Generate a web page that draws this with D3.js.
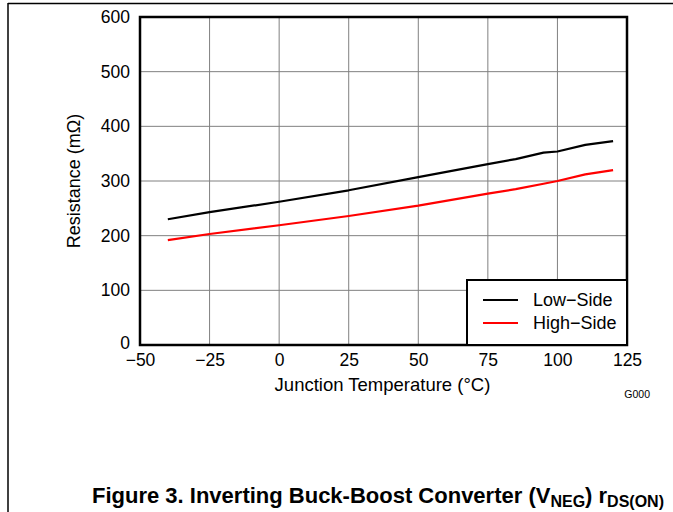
<!DOCTYPE html>
<html>
<head>
<meta charset="utf-8">
<script src="https://cdn.jsdelivr.net/npm/d3@7"></script>
<style>
  html, body { margin: 0; padding: 0; background: #fff; }
  svg { display: block; font-family: "Liberation Sans", Arial, sans-serif; }
</style>
</head>
<body>
<svg id="chart" width="673" height="512"></svg>
<script>
// Junction temperature (°C) sample points
const temps = [-40, -25, 0, 25, 50, 75, 85, 95, 100, 110, 120];
// On-resistance (mΩ) of each switch
const lowSide  = [230, 243, 262, 283, 307, 331, 340, 352, 354, 366, 373];
const highSide = [192, 203, 219, 236, 255, 277, 285, 295, 300, 312, 320];

const xTicks = [-50, -25, 0, 25, 50, 75, 100, 125];
const yTicks = [0, 100, 200, 300, 400, 500, 600];

const seriesNames = ["Low\u2212Side", "High\u2212Side"];
const seriesColors = ["#000000", "#ff0000"];

const FONT = "Liberation Sans, Arial, sans-serif";
const svg = d3.select("#chart");
const plot = { left: 140, top: 17, right: 627, bottom: 345 };

const x = d3.scaleLinear().domain([-50, 125]).range([plot.left, plot.right]);
const y = d3.scaleLinear().domain([0, 600]).range([plot.bottom, plot.top]);

// page frame lines
svg.append("line").attr("x1", 8).attr("x2", 673).attr("y1", 3.5).attr("y2", 3.5)
  .attr("stroke", "#000").attr("stroke-width", 1.5);
svg.append("line").attr("x1", 8).attr("x2", 8).attr("y1", 3).attr("y2", 512)
  .attr("stroke", "#000").attr("stroke-width", 1.5);

// grid
const grid = svg.append("g");
grid.selectAll("line.vx").data(xTicks.slice(1, -1)).join("line")
  .attr("x1", d => x(d)).attr("x2", d => x(d))
  .attr("y1", plot.top).attr("y2", plot.bottom)
  .attr("stroke", "#808080").attr("stroke-width", 1);
grid.selectAll("line.hy").data(yTicks.slice(1, -1)).join("line")
  .attr("x1", plot.left).attr("x2", plot.right)
  .attr("y1", d => y(d)).attr("y2", d => y(d))
  .attr("stroke", "#808080").attr("stroke-width", 1);

// axes (labels only; frame drawn separately)
const xAxis = svg.append("g").attr("transform", `translate(0,${plot.bottom})`)
  .call(d3.axisBottom(x).tickValues(xTicks).tickSize(0).tickPadding(9)
    .tickFormat(d => d < 0 ? "\u2212" + Math.abs(d) : d));
xAxis.select(".domain").remove();
xAxis.attr("font-size", 17.5).attr("font-family", FONT);
xAxis.selectAll("text").attr("fill", "#000");

const yAxis = svg.append("g").attr("transform", `translate(${plot.left},0)`)
  .call(d3.axisLeft(y).tickValues(yTicks).tickSize(0).tickPadding(10));
yAxis.select(".domain").remove();
yAxis.attr("font-size", 17.5).attr("font-family", FONT);
yAxis.selectAll("text").attr("fill", "#000");
// lift the bottom "0" slightly clear of the x tick labels
yAxis.selectAll(".tick").filter(d => d === 0).select("text").attr("dy", "0.2em");

// series lines
const line = d3.line().x(d => x(d[0])).y(d => y(d[1]));
[lowSide, highSide].forEach((vals, i) => {
  svg.append("path")
    .datum(temps.map((t, j) => [t, vals[j]]))
    .attr("d", line)
    .attr("fill", "none")
    .attr("stroke", seriesColors[i])
    .attr("stroke-width", 2.2)
    .attr("stroke-linejoin", "round");
});

// plot frame
svg.append("rect")
  .attr("x", plot.left).attr("y", plot.top)
  .attr("width", plot.right - plot.left).attr("height", plot.bottom - plot.top)
  .attr("fill", "none").attr("stroke", "#000").attr("stroke-width", 2.5);

// legend
const lg = svg.append("g");
lg.append("rect").attr("x", 467).attr("y", 280)
  .attr("width", plot.right - 467).attr("height", plot.bottom - 280)
  .attr("fill", "#fff").attr("stroke", "#000").attr("stroke-width", 2);
seriesNames.forEach((name, i) => {
  const ly = 300 + i * 23;
  lg.append("line").attr("x1", 483).attr("x2", 518).attr("y1", ly).attr("y2", ly)
    .attr("stroke", seriesColors[i]).attr("stroke-width", 2.2);
  lg.append("text").attr("x", 533).attr("y", ly + 6)
    .attr("font-size", 18).attr("fill", "#000").text(name);
});

// axis titles
svg.append("text")
  .attr("x", (plot.left + plot.right) / 2 - 1).attr("y", 391)
  .attr("text-anchor", "middle").attr("font-size", 18.5).attr("fill", "#000")
  .text("Junction Temperature (\u00B0C)");
svg.append("text")
  .attr("transform", `translate(80,${(plot.top + plot.bottom) / 2}) rotate(-90)`)
  .attr("text-anchor", "middle").attr("font-size", 18).attr("fill", "#000")
  .text("Resistance (m\u03A9)");

svg.append("text").attr("x", 650).attr("y", 398).attr("text-anchor", "end")
  .attr("font-size", 10.5).attr("fill", "#000").text("G000");

// figure caption
const cap = svg.append("text").attr("x", 92).attr("y", 503)
  .attr("font-size", 22).attr("font-weight", "bold").attr("fill", "#000");
cap.append("tspan").text("Figure 3. Inverting Buck-Boost Converter (V");
cap.append("tspan").attr("font-size", 16).attr("dy", 4).text("NEG");
cap.append("tspan").attr("dy", -4).text(") r");
cap.append("tspan").attr("font-size", 16).attr("dy", 4).text("DS(ON)");
</script>
</body>
</html>
